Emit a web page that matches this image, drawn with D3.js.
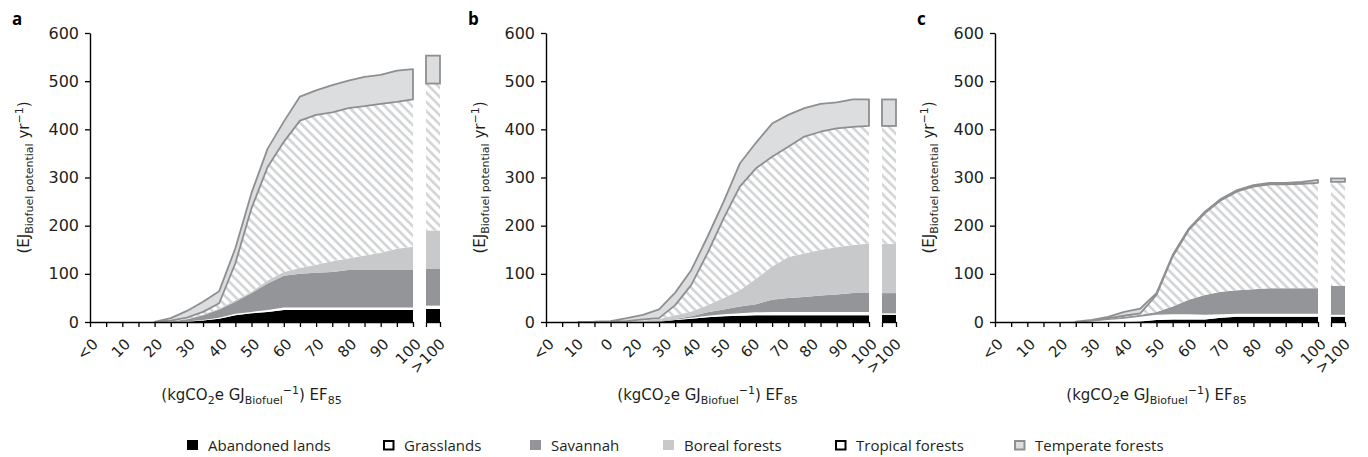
<!DOCTYPE html>
<html><head><meta charset="utf-8">
<script src="https://cdn.jsdelivr.net/npm/d3@7"></script>
<style>body{margin:0;background:#fff} svg{display:block}</style>
</head><body>
<svg id="chart" width="1368" height="457"></svg>
<script>
// ---------- DATA ----------
const categories = ["<0","5","10","15","20","25","30","35","40","45","50","55","60","65","70","75","80","85","90","95","100"];
const overflowLabel = ">100";
const layerNames = ["Abandoned lands","Grasslands","Savannah","Boreal forests","Tropical forests","Temperate forests"];
const yTicks = [0,100,200,300,400,500,600];
const aTickLabels = ["<0","10","20","30","40","50","60","70","80","90","100"];
const bTickLabels = ["<0","10","0","20","30","40","50","60","70","80","90","100"];
const cTickLabels = ["<0","10","20","30","40","50","60","70","80","90","100"];
const panelLetters = ["a","b","c"];

// Panel a (EJ yr-1, per layer)
const aAbandoned = [0,0,0,0,0,0,0.5,3,7,14,18,21,25,25,25,25,25,25,25,25,25];
const aGrass     = [0,0,0,0,0,0,0.5,1,2,3,3,4,5,5,5,5,5,5,5,5,5];
const aSavannah  = [0,0,0,0,0,1,4.5,10,17,25,39,55,66,70,72,74,78,78,78,78,78];
const aBoreal    = [0,0,0,0,0,0,0.5,1.5,2,3,3,6,8,12,17,22,24,30,36,44,48];
const aTropical  = [0,0,0,0,0,2,3,5.5,11,77,173,236,270,306,311,309,312,310,309,305,306];
const aTemperate = [0,0,0,0,0,5,14,21,25,31,32,38,42,50,51,57,57,61,60,65,63];
const aOverflow  = [27,7,76,80,305,58];

// Panel b
const bAbandoned = [0,0,0,0,0,0,0,0.5,4,7,10,12,13,14,14,14,14,14,14,14,14];
const bGrass     = [0,0,0,0,0,0,0,0,1,2,3,4,5,6,7,7,7,7,7,7,7];
const bSavannah  = [0,0,0,0,0,0,1,1.5,1,3,7,10,14,17,25,29,31,34,36,39,39];
const bBoreal    = [0,0,0,0,0,1,2,4,8,10,15,24,34,53,69,85,90,95,98,100,103];
const bTropical  = [0,0,0,0,0.5,1,2.5,2,21,55,108,165,215,229,228,229,243,245,247,245,244];
const bTemperate = [0,0,0,0.5,1.5,6,9.5,18,26,31,34,35,48,53,69,66,59,58,54,57,55];
const bOverflow  = [15,3,42,102,245,55];

// Panel c
const cAbandoned = [0,0,0,0,0,0,0,0,0,1,4,5,5,5,9,11,11,11,11,11,11];
const cGrass     = [0,0,0,0,0,0,1,4,7,10,11,11,11,10,7,6,6,6,6,6,6];
const cSavannah  = [0,0,0,0,0,0.5,2,3,4,4,6,16,30,41,47,49,51,53,53,53,53];
const cBoreal    = [0,0,0,0,0,0,0,0,0,0,0,0,0,0,0,0,0,0,0,0,0];
const cTropical  = [0,0,0,0,0,0,0.5,0.5,2,3,35,104,145,170,190,205,213,216,216,217,219];
const cTemperate = [0,0,0,0,0,0,1,3,8,10,4,3,3,3,3,3,3,3,3,4,6];
const cOverflow  = [11,4,60,0,216,7];

// ---------- LAYOUT / STYLE ----------
const panelX = [90, 546, 995];
const W = 323, Y0 = 322, Y1 = 33;
const fills   = ["#000000","#ffffff","#939598","#c8c9cb","url(#hatch)","#dcdddf"];
const strokes = [null,null,null,null,null,"#8e8f91"];
const legendX = [187, 383, 530, 663, 835, 1014];
const legendFill   = ["#000","#fff","#939598","#c8c9cb","#fff","#dcdddf"];
const legendStroke = [null,"#000",null,null,"#000","#8e8f91"];
const tickFont = "DejaVu Sans";
const textColor = "#231f20";

const svg = d3.select("#chart");
const defs = svg.append("defs");
const pat = defs.append("pattern").attr("id","hatch")
  .attr("patternUnits","userSpaceOnUse").attr("width",6.5).attr("height",6.5)
  .attr("patternTransform","rotate(-45)");
pat.append("rect").attr("width",6.5).attr("height",6.5).attr("fill","#fff");
pat.append("line").attr("x1",3.25).attr("y1",-1).attr("x2",3.25).attr("y2",7.5)
  .attr("stroke","#d3d4d6").attr("stroke-width",2.6);

const y = d3.scaleLinear().domain([0,600]).range([Y0,Y1]);
const x = d3.scalePoint().domain(categories).range([0,W]);
const xo = d3.scaleLinear().domain([0,1]).range([W+13, W+27]);
const keys = layerNames;

const panels = [
  {labels:aTickLabels, series:[aAbandoned,aGrass,aSavannah,aBoreal,aTropical,aTemperate], over:aOverflow},
  {labels:bTickLabels, series:[bAbandoned,bGrass,bSavannah,bBoreal,bTropical,bTemperate], over:bOverflow},
  {labels:cTickLabels, series:[cAbandoned,cGrass,cSavannah,cBoreal,cTropical,cTemperate], over:cOverflow}
];

panels.forEach((p, pi) => {
  const g = svg.append("g").attr("transform", `translate(${panelX[pi]},0)`);
  const rows = categories.map((c,i) => { const r = {cat:c}; keys.forEach((k,j) => r[k] = p.series[j][i]); return r; });
  const stacked = d3.stack().keys(keys)(rows);
  stacked.forEach((s, j) => {
    const vals = p.series[j];
    if (!vals.some(v => v > 0)) return;
    const area = d3.area()
      .defined((d,i) => vals[i] > 0 || vals[i-1] > 0 || vals[i+1] > 0)
      .x(d => x(d.data.cat)).y0(d => y(d[0])).y1(d => y(d[1]));
    const path = g.append("path").datum(s).attr("d", area).attr("fill", fills[j]);
    if (strokes[j]) path.attr("stroke", strokes[j]).attr("stroke-width", 1.8).attr("stroke-linejoin","round");
  });
  // overflow bar
  const orow = {cat: overflowLabel}; keys.forEach((k,j) => orow[k] = p.over[j]);
  const ost = d3.stack().keys(keys)([orow]);
  ost.forEach((s, j) => {
    const d = s[0];
    if (d[1] - d[0] <= 0) return;
    const r = g.append("rect").attr("x", xo(0)).attr("width", xo(1)-xo(0))
      .attr("y", y(d[1])).attr("height", y(d[0]) - y(d[1])).attr("fill", fills[j]);
    if (strokes[j]) r.attr("stroke", strokes[j]).attr("stroke-width", 1.8);
  });

  // axes
  const ya = g.append("g").call(d3.axisLeft(y).tickValues(yTicks).tickSize(5).tickSizeOuter(0).tickPadding(6));
  ya.selectAll("text").attr("font-family", tickFont).attr("font-size", 16).attr("fill", textColor);
  const xa = g.append("g").attr("transform", `translate(0,${Y0})`)
    .call(d3.axisBottom(x).tickSize(5).tickSizeOuter(0).tickFormat(""));
  const xoa = g.append("g").attr("transform", `translate(0,${Y0})`)
    .call(d3.axisBottom(xo).tickValues([0,1]).tickSize(5).tickSizeOuter(0).tickFormat(""));
  [ya, xa, xoa].forEach(a => { a.selectAll("path,line").attr("stroke","#000").attr("stroke-width",1.3); a.select(".domain").attr("stroke-width",1.4); });

  // x tick labels
  const ls = d3.scalePoint().domain(p.labels).range([0, W]);
  g.append("g").selectAll("text").data(p.labels).join("text")
    .attr("transform", (d,i) => `translate(${ls.range()[0] + i*ls.step() + 9},${Y0+23}) rotate(-45)`)
    .attr("text-anchor","end").attr("font-family", tickFont).attr("font-size", 15).attr("fill", textColor)
    .text(d => d);
  g.append("text")
    .attr("transform", `translate(${(xo(0)+xo(1))/2 + 13},${Y0+23}) rotate(-45)`)
    .attr("text-anchor","end").attr("font-family", tickFont).attr("font-size", 15).attr("fill", textColor)
    .text(overflowLabel);

  // y title
  const yt = g.append("text").attr("transform", `translate(-61,${(Y0+Y1)/2}) rotate(-90)`)
    .attr("text-anchor","middle").attr("font-family", tickFont).attr("font-size", 15).attr("fill", textColor);
  yt.append("tspan").text("(EJ");
  yt.append("tspan").attr("font-size", 11).attr("dy", 4).text("Biofuel potential");
  yt.append("tspan").attr("dy", -4).text(" yr");
  yt.append("tspan").attr("font-size", 11).attr("dy", -6).text("−1");
  yt.append("tspan").attr("dy", 6).text(")");

  // x title
  const xt = g.append("text").attr("x", W/2).attr("y", 400)
    .attr("text-anchor","middle").attr("font-family", tickFont).attr("font-size", 15).attr("fill", textColor);
  xt.append("tspan").text("(kgCO");
  xt.append("tspan").attr("font-size", 11).attr("dy", 4).text("2");
  xt.append("tspan").attr("dy", -4).text("e GJ");
  xt.append("tspan").attr("font-size", 11).attr("dy", 4).text("Biofuel");
  xt.append("tspan").attr("font-size", 11).attr("dy", -10).text("−1");
  xt.append("tspan").attr("dy", 6).text(") EF");
  xt.append("tspan").attr("font-size", 11).attr("dy", 4).text("85");

  // panel letter
  svg.append("text").attr("x", panelX[pi] - 78).attr("y", 25)
    .attr("font-family","Open Sans").attr("font-weight","bold").attr("font-size",17).attr("fill","#000")
    .text(panelLetters[pi]);
});

// legend
const lg = svg.append("g");
layerNames.forEach((name, i) => {
  const s = lg.append("rect").attr("x", legendX[i]).attr("y", 440).attr("width", 11).attr("height", 10)
    .attr("fill", legendFill[i]);
  if (legendStroke[i]) s.attr("x", legendX[i]+1).attr("y", 441).attr("width", 9.5).attr("height", 8.5)
    .attr("stroke", legendStroke[i]).attr("stroke-width", 2);
  lg.append("text").attr("x", legendX[i] + 21).attr("y", 450.5)
    .attr("font-family","Open Sans").attr("font-size",15).attr("fill", textColor).text(name);
});
</script>
</body></html>
